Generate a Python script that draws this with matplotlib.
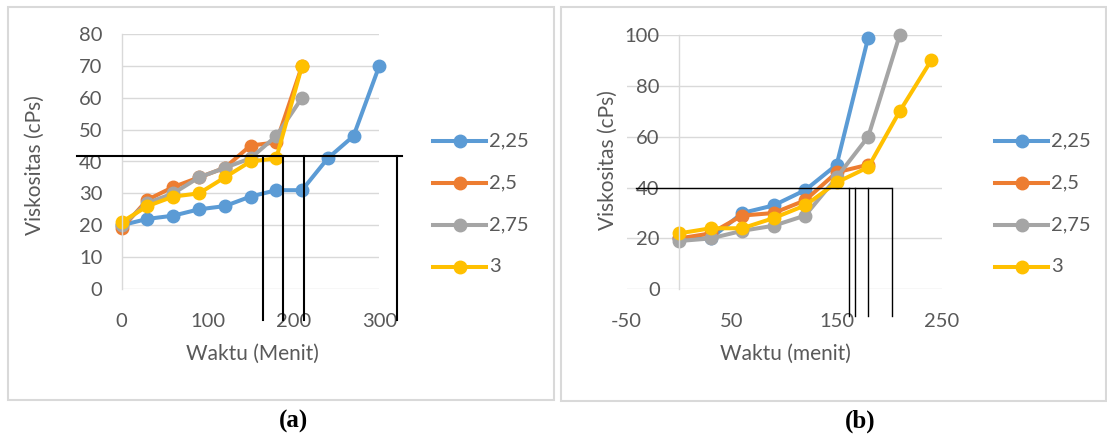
import matplotlib.pyplot as plt
from matplotlib.patches import Rectangle
from matplotlib.lines import Line2D

plt.rcParams['font.family'] = ['Lato', 'DejaVu Sans']
plt.rcParams['axes.unicode_minus'] = False

W, H = 1107, 440

series_names = ['2,25', '2,5', '2,75', '3']
colors = ['#5B9BD5', '#ED7D31', '#A5A5A5', '#FFC000']

# panel (a): time in minutes, viscosity in cPs
waktu_a = [
    [0, 30, 60, 90, 120, 150, 180, 210, 240, 270, 300],
    [0, 30, 60, 90, 120, 150, 180, 210],
    [0, 30, 60, 90, 120, 150, 180, 210],
    [0, 30, 60, 90, 120, 150, 180, 210],
]
visk_a = [
    [20, 22, 23, 25, 26, 29, 31, 31, 41, 48, 70],
    [19, 28, 32, 35, 38, 45, 46, 70],
    [20, 27, 30, 35, 38, 41, 48, 60],
    [21, 26, 29, 30, 35, 40, 41, 70],
]

# panel (b)
waktu_b = [
    [0, 30, 60, 90, 120, 150, 180],
    [0, 30, 60, 90, 120, 150, 180],
    [0, 30, 60, 90, 120, 150, 180, 210],
    [0, 30, 60, 90, 120, 150, 180, 210, 240],
]
visk_b = [
    [20, 20, 30, 33, 39, 49, 99],
    [20, 22, 29, 30, 35, 46, 49],
    [19, 20, 23, 25, 29, 44, 60, 100],
    [22, 24, 24, 28, 33, 42, 48, 70, 90],
]

# reading lines drawn over each chart
garis_a_y = 41.7
garis_a_x0, garis_a_x1 = -52, 326
garis_a_v = [164, 188, 212.6, 321]
garis_b_y = 40
garis_b_x0, garis_b_x1 = -41, 202
garis_b_v = [162, 167.6, 179.4, 202.3]

TXT = '#595959'
GRID = '#D9D9D9'
FS = 14.5


def px_axes(fig, left, top, right, bottom):
    return fig.add_axes([left / W, 1 - bottom / H, (right - left) / W, (bottom - top) / H])


def style_axes(ax):
    for s in ['top', 'right', 'bottom']:
        ax.spines[s].set_visible(False)
    ax.spines['left'].set_color(GRID)
    ax.spines['left'].set_linewidth(1)
    ax.grid(axis='y', color=GRID, linewidth=1)
    ax.set_axisbelow(True)
    ax.tick_params(length=0, labelsize=FS, labelcolor=TXT)
    ax.tick_params(axis='y', pad=14)
    ax.tick_params(axis='x', pad=17)
    ax.set_facecolor('none')


def draw_series(ax, xs, ys):
    for x, y, c, n in zip(xs, ys, colors, series_names):
        ax.plot(x, y, color=c, lw=2.9, marker='o', ms=9, label=n, clip_on=False)


def draw_legend(fig, x_line, y_rows):
    for n, c, y in zip(series_names, colors, y_rows):
        yf = 1 - y / H
        fig.add_artist(Line2D([x_line / W, (x_line + 53) / W], [yf, yf], color=c, lw=2.9))
        fig.add_artist(Line2D([(x_line + 26.5) / W], [yf], color=c, marker='o', ms=9))
        fig.text((x_line + 56) / W, yf, n, fontsize=FS, color=TXT, va='center', ha='left')


fig = plt.figure(figsize=(W / 100, H / 100), dpi=100)

# panel frames
fig.add_artist(Rectangle((8 / W, 1 - 400 / H), 546 / W, 393 / H, fill=False,
                         edgecolor=GRID, lw=1.5))
fig.add_artist(Rectangle((561 / W, 1 - 400.5 / H), 545 / W, 393.5 / H, fill=False,
                         edgecolor=GRID, lw=1.5))

# (a)
ax1 = px_axes(fig, 121.7, 34, 379.3, 289)
style_axes(ax1)
draw_series(ax1, waktu_a, visk_a)
ax1.set_xlim(0, 300)
ax1.set_ylim(0, 80)
ax1.set_xticks([0, 100, 200, 300])
ax1.set_yticks(range(0, 81, 10))
ax1.plot([garis_a_x0, garis_a_x1], [garis_a_y, garis_a_y], color='black', lw=1.5,
         clip_on=False, zorder=10)
for xv in garis_a_v:
    ax1.plot([xv, xv], [garis_a_y, -9.7], color='black', lw=1.5, clip_on=False, zorder=10)
fig.text(252 / W, 1 - 354 / H, 'Waktu (Menit)', fontsize=FS + 0.5, color=TXT, ha='center', va='center')
fig.text(35 / W, 1 - 165 / H, 'Viskositas (cPs)', fontsize=FS + 0.5, color=TXT, ha='center',
         va='center', rotation=90)
draw_legend(fig, 433, [141, 182.7, 225, 267])

# (b)
ax2 = px_axes(fig, 626.7, 35, 941.7, 289.3)
style_axes(ax2)
ax2.spines['left'].set_position(('data', 0))
draw_series(ax2, waktu_b, visk_b)
ax2.set_xlim(-50, 250)
ax2.set_ylim(0, 100)
ax2.set_xticks([-50, 50, 150, 250])
ax2.set_yticks(range(0, 101, 20))
ax2.plot([garis_b_x0, garis_b_x1], [garis_b_y, garis_b_y], color='black', lw=1,
         clip_on=False, zorder=10)
for xv in garis_b_v:
    ax2.plot([xv, xv], [garis_b_y, -10.5], color='black', lw=1, clip_on=False, zorder=10)
fig.text(785 / W, 1 - 354 / H, 'Waktu (menit)', fontsize=FS + 0.5, color=TXT, ha='center', va='center')
fig.text(608 / W, 1 - 160 / H, 'Viskositas (cPs)', fontsize=FS + 0.5, color=TXT, ha='center',
         va='center', rotation=90)
draw_legend(fig, 995, [140.7, 182.7, 225, 266.7])

# panel captions
fig.text(293 / W, 1 - 421 / H, '(a)', fontsize=18, fontweight='bold', family='Liberation Serif',
         ha='center', va='center')
fig.text(860 / W, 1 - 421 / H, '(b)', fontsize=18, fontweight='bold', family='Liberation Serif',
         ha='center', va='center')

fig.savefig('out.png', dpi=100)
